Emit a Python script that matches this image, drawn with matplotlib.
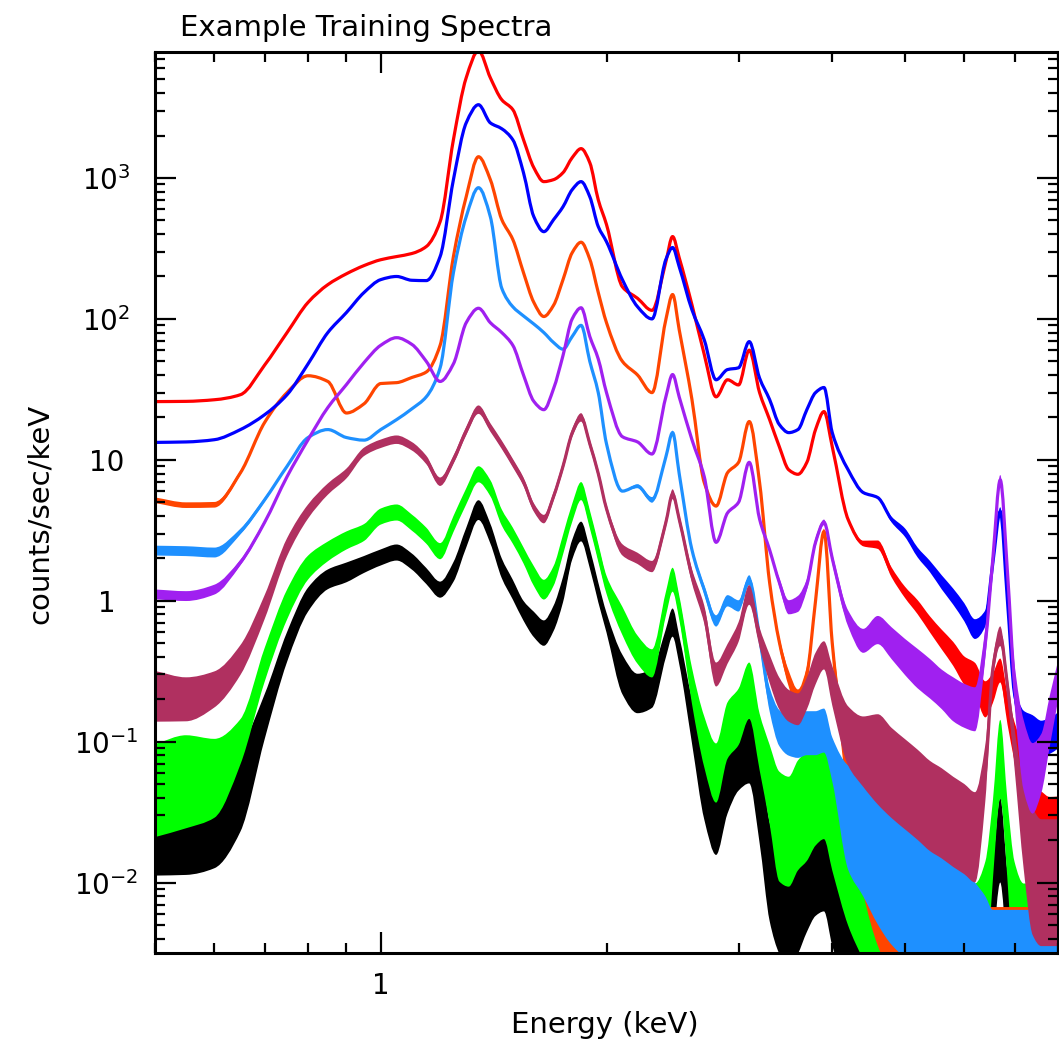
import numpy as np
import matplotlib
matplotlib.use('Agg')
import matplotlib.pyplot as plt
from matplotlib.path import Path
from matplotlib.patches import PathPatch
from matplotlib.ticker import FixedLocator, FixedFormatter, LogLocator, NullFormatter

# channel energies (keV) shared by every spectrum
energy = [0.50, 0.55, 0.60, 0.65, 0.70, 0.75, 0.80, 0.85, 0.90, 0.95,
          1.00, 1.05, 1.10, 1.15, 1.20, 1.25, 1.30, 1.35, 1.40, 1.45,
          1.50, 1.55, 1.60, 1.65, 1.70, 1.75, 1.80, 1.85, 1.90, 1.95,
          2.00, 2.10, 2.20, 2.30, 2.40, 2.45, 2.50, 2.60, 2.70, 2.80,
          2.90, 3.00, 3.10, 3.20, 3.30, 3.40, 3.50, 3.60, 3.70, 3.80,
          3.90, 4.00, 4.20, 4.40, 4.60, 4.80, 5.00, 5.20, 5.40, 5.60,
          5.80, 6.00, 6.20, 6.40, 6.55, 6.70, 6.85, 7.00, 7.20, 7.40,
          7.60, 7.80, 8.00]

# counts/sec/keV for each training spectrum, and the scatter (dex) around it
red = [25.9, 26.0, 26.7, 29.0, 47.0, 80.0, 131, 175, 209, 239,
       263, 277, 291, 326, 490, 1870, 5140, 8000, 5140, 3590,
       3055, 1870, 1183, 942, 973, 1091, 1393, 1615, 1284, 700,
       467, 169, 140, 115, 255, 384, 272, 126, 56, 28,
       37, 34, 60, 30, 19.3, 12.4, 8.5, 7.9, 9.6, 16.4,
       22, 12.4, 3.77, 2.55, 2.5, 1.59, 1.15, 0.9, 0.68, 0.53,
       0.42, 0.32, 0.28, 0.2, 0.24, 0.32, 0.17, 0.10, 0.055, 0.028,
       0.025, 0.025, 0.027]
red_err = [0] * 52 + [0.014, 0.02, 0.03, 0.035, 0.04, 0.05, 0.057, 0.07,
                      0.085, 0.1, 0.113, 0.128, 0.106, 0.085, 0.106, 0.14,
                      0.21, 0.25, 0.25, 0.21, 0.18]

blue = [13.3, 13.4, 13.9, 16.4, 20.9, 29, 48, 80, 111, 154,
        190, 200, 188, 187, 277, 973, 2460, 3310, 2460, 2235,
        1866, 1090, 531, 416, 506, 625, 826, 942, 736, 452,
        353, 190, 122, 100, 264, 321, 235, 116, 71, 37,
        43.7, 45, 69, 38, 26.8, 17.8, 15.6, 16.4, 22.7, 30,
        32.6, 15.6, 8.5, 5.86, 5.4, 3.77, 3.05, 2.2, 1.75, 1.35,
        1.07, 0.83, 0.63, 0.75, 1.86, 4.3, 1.0, 0.22, 0.13, 0.115,
        0.105, 0.11, 0.12]
blue_err = [0] * 55 + [0.02, 0.03, 0.035, 0.04, 0.05, 0.057, 0.064, 0.07,
                       0.057, 0.03, 0.03, 0.04, 0.07, 0.106, 0.128, 0.128,
                       0.128, 0.128]

orange = [5.17, 4.77, 4.8, 8.1, 18.4, 30, 39.5, 36, 21.5, 25,
          34.8, 35.3, 38.4, 42, 65, 277, 736, 1415, 973, 507,
          366, 213, 131, 104, 125, 190, 295, 350, 265, 154,
          94, 50, 40, 30, 99, 149, 84, 26.8, 6.9, 4.7,
          8.1, 9.6, 18.7, 6.9, 1.35, 0.51, 0.28, 0.2, 0.3, 1.0,
          3.1, 0.5, 0.057, 0.016, 0.008, 0.005, 0.004, 0.0035, 0.003, 0.003,
          0.003, 0.003, 0.003, 0.003, 0.003, 0.003, 0.003, 0.003, 0.003, 0.003,
          0.003, 0.003, 0.003]
orange_err = ([0.02, 0.02, 0.02, 0.014] + [0] * 40 +
              [0.02, 0.035, 0.057, 0.07, 0.057, 0.035, 0.02, 0.057, 0.18, 0.28] +
              [0.35] * 19)

dodger = [2.27, 2.25, 2.2, 3.1, 5.2, 9.0, 14.4, 16.4, 14.4, 13.8,
          16.4, 19.3, 23, 28, 45, 213, 531, 853, 531, 165,
          122, 105, 92, 80, 68, 61, 75, 90, 50, 30,
          13, 6, 6.5, 5.2, 10.5, 15.6, 8, 2.3, 1.2, 0.72,
          1.0, 0.92, 1.4, 0.55, 0.2, 0.125, 0.11, 0.11, 0.115, 0.115,
          0.12, 0.075, 0.029, 0.022, 0.016, 0.012, 0.0095, 0.0085, 0.0075, 0.0068,
          0.006, 0.005, 0.004, 0.0035, 0.003, 0.003, 0.003, 0.003, 0.003, 0.003,
          0.003, 0.003, 0.003]
dodger_err = ([0.035, 0.035, 0.035, 0.02, 0.014] + [0] * 27 +
              [0.014, 0.02, 0.014, 0.014, 0.014, 0.02, 0.03, 0.04, 0.04, 0.04,
               0.035, 0.05, 0.085, 0.128, 0.14, 0.156, 0.156, 0.156, 0.156, 0.156,
               0.37, 0.44, 0.5, 0.52, 0.5, 0.47, 0.43, 0.4, 0.4, 0.4,
               0.4, 0.36] + [0.33] * 9)

purple = [1.11, 1.08, 1.2, 1.87, 3.6, 7.6, 13.9, 23.5, 34.2, 49,
          65, 73.6, 66, 50, 36, 48, 94, 119, 94, 80,
          65, 40, 26, 22.7, 32, 55, 100, 120, 75, 52,
          30, 14.6, 13.4, 11, 28, 40.3, 28, 13.9, 7.6, 2.6,
          4.2, 5.0, 9.6, 3.8, 2.3, 1.35, 0.9, 0.95, 1.3, 2.6,
          3.6, 2.0, 0.75, 0.52, 0.62, 0.5, 0.4, 0.33, 0.28, 0.235,
          0.2, 0.18, 0.17, 0.5, 2.0, 7.2, 1.6, 0.26, 0.08, 0.055,
          0.07, 0.14, 0.27]
purple_err = ([0.035, 0.035, 0.035, 0.02, 0.014] + [0] * 40 +
              [0.03, 0.05, 0.057, 0.04, 0.03, 0.02, 0.035, 0.057, 0.085, 0.1,
               0.113, 0.128, 0.14, 0.14, 0.14, 0.156, 0.156, 0.156, 0.106, 0.035,
               0.035, 0.035, 0.14, 0.25, 0.25, 0.21, 0.18, 0.14])

maroon = [0.21, 0.2, 0.235, 0.38, 0.9, 2.4, 4.3, 6.2, 8, 11.4,
          13, 13.9, 12.5, 10, 7, 10, 16, 22.7, 17, 12.8,
          9.5, 7, 4.6, 3.8, 5.5, 9, 15.5, 20, 13, 8,
          4.5, 2.3, 2.0, 1.75, 3.6, 5.7, 3.8, 1.5, 0.8, 0.3,
          0.42, 0.6, 1.1, 0.55, 0.33, 0.22, 0.18, 0.17, 0.22, 0.33,
          0.41, 0.25, 0.11, 0.085, 0.075, 0.06, 0.05, 0.042, 0.035, 0.031,
          0.027, 0.024, 0.021, 0.06, 0.33, 0.56, 0.25, 0.09, 0.025, 0.012,
          0.01, 0.01, 0.01]
maroon_err = ([0.18, 0.156, 0.128, 0.106, 0.085, 0.064, 0.05, 0.04, 0.035, 0.03] +
              [0.03] * 21 + [0.04, 0.04, 0.04, 0.035, 0.035, 0.035, 0.05, 0.064, 0.085,
                             0.07, 0.07, 0.07, 0.07, 0.1, 0.113, 0.113, 0.113, 0.113, 0.113,
                             0.1, 0.14, 0.21, 0.25] +
              [0.32] * 9 + [0.2, 0.07, 0.07, 0.07, 0.14] + [0.3, 0.45, 0.45, 0.45, 0.45])

green = [0.045, 0.052, 0.055, 0.1, 0.35, 0.94, 1.72, 2.24, 2.68, 3.05,
         3.96, 4.23, 3.59, 2.9, 2.25, 3.5, 5.5, 7.9, 6.3, 3.9,
         2.9, 2.1, 1.5, 1.2, 1.5, 2.5, 4.2, 6.0, 3.8, 2.2,
         1.3, 0.72, 0.45, 0.36, 0.95, 1.41, 0.9, 0.25, 0.1, 0.06,
         0.12, 0.15, 0.23, 0.1, 0.05, 0.025, 0.023, 0.03, 0.035, 0.045,
         0.05, 0.03, 0.014, 0.008, 0.005, 0.004, 0.0035, 0.0035, 0.0035, 0.0035,
         0.0035, 0.0035, 0.0035, 0.005, 0.02, 0.075, 0.02, 0.005, 0.0035, 0.0035,
         0.0035, 0.0035, 0.0035]
green_err = ([0.33, 0.33, 0.28, 0.16, 0.12, 0.106, 0.085, 0.07, 0.064, 0.06] +
             [0.057] * 12 + [0.07] * 4 + [0.064] * 5 + [0.1] * 3 + [0.085] * 3 +
             [0.128, 0.18, 0.21, 0.2, 0.2, 0.2, 0.2, 0.28] + [0.39] * 7 +
             [0.45] * 12 + [0.28] * 3 + [0.45] * 6)

black = [0.024, 0.026, 0.029, 0.046, 0.15, 0.47, 1.02, 1.42, 1.59, 1.81,
         2.03, 2.2, 1.9, 1.5, 1.2, 1.6, 2.8, 4.4, 3.0, 1.7,
         1.2, 0.85, 0.68, 0.59, 0.75, 1.2, 2.3, 3.1, 2.0, 1.15,
         0.7, 0.3, 0.22, 0.24, 0.5, 0.7, 0.45, 0.14, 0.05, 0.03,
         0.055, 0.08, 0.09, 0.04, 0.012, 0.007, 0.0055, 0.007, 0.01, 0.013,
         0.014, 0.008, 0.004, 0.003, 0.0028, 0.0028, 0.0028, 0.0028, 0.0028, 0.0028,
         0.0028, 0.0028, 0.0028, 0.003, 0.007, 0.02, 0.006, 0.003, 0.0028, 0.0028,
         0.0028, 0.0028, 0.0028]
black_err = ([0.33, 0.36, 0.36, 0.3, 0.16, 0.106, 0.085, 0.07, 0.07, 0.06] +
             [0.057] * 5 + [0.07] * 7 + [0.09] * 4 + [0.07] * 5 + [0.14] * 3 +
             [0.1] * 3 + [0.156, 0.25, 0.28, 0.25, 0.25, 0.25, 0.32] +
             [0.35] * 20 + [0.3] * 3 + [0.35] * 6)

# (values, scatter, colour) in drawing order
spectra = [
    (black, black_err, 'black'),
    (green, green_err, '#00ff00'),
    (orange, orange_err, '#ff4500'),
    (dodger, dodger_err, '#1e90ff'),
    (red, red_err, '#ff0000'),
    (blue, blue_err, '#0000ff'),
    (maroon, maroon_err, '#b03060'),
    (purple, purple_err, '#a020f0'),
]

ytick_vals = [1e-2, 1e-1, 1, 10, 100, 1000]
ytick_text = ['$10^{-2}$', '$10^{-1}$', '1', '10', '$10^{2}$', '$10^{3}$']


def pchip_slopes(x, y):
    h = np.diff(x)
    d = np.diff(y) / h
    m = np.zeros_like(y)
    m[0], m[-1] = d[0], d[-1]
    for k in range(1, len(x) - 1):
        if d[k - 1] * d[k] <= 0:
            m[k] = 0.0
        else:
            w1 = 2 * h[k] + h[k - 1]
            w2 = h[k] + 2 * h[k - 1]
            m[k] = (w1 + w2) / (w1 / d[k - 1] + w2 / d[k])
    return m


def bezier_verts(lx, ly):
    """Cubic Bezier control points through (lx, ly), given in log10 space."""
    m = pchip_slopes(lx, ly)
    verts = []
    for k in range(len(lx) - 1):
        h = lx[k + 1] - lx[k]
        verts += [(lx[k] + h / 3, ly[k] + m[k] * h / 3),
                  (lx[k + 1] - h / 3, ly[k + 1] - m[k + 1] * h / 3),
                  (lx[k + 1], ly[k + 1])]
    return verts


def to_data(verts):
    return [(10 ** a, 10 ** b) for a, b in verts]


W, H = 1059, 1041
fig = plt.figure(figsize=(W / 100, H / 100), dpi=100)
ax = fig.add_axes([155 / W, 1 - 953 / H, 903 / W, 901 / H])

lx = np.log10(np.array(energy))
for vals, err, col in spectra:
    ly = np.log10(np.array(vals, dtype=float))
    s = np.array(err, dtype=float)

    # scatter band around the spectrum
    up = [(lx[0], ly[0] + s[0])] + bezier_verts(lx, ly + s)
    lo_rev = bezier_verts(lx[::-1], (ly - s)[::-1])
    verts = up + [(lx[-1], ly[-1] - s[-1])] + lo_rev + [(lx[0], ly[0] + s[0])]
    codes = ([Path.MOVETO] + [Path.CURVE4] * (len(up) - 1) + [Path.LINETO] +
             [Path.CURVE4] * len(lo_rev) + [Path.CLOSEPOLY])
    ax.add_patch(PathPatch(Path(to_data(verts), codes), facecolor=col,
                           edgecolor='none', lw=0))

    # the spectrum itself
    line = [(lx[0], ly[0])] + bezier_verts(lx, ly)
    codes = [Path.MOVETO] + [Path.CURVE4] * (len(line) - 1)
    ax.add_patch(PathPatch(Path(to_data(line), codes), facecolor='none',
                           edgecolor=col, lw=2.3, capstyle='round',
                           joinstyle='round'))

ax.set_xscale('log')
ax.set_yscale('log')
ax.set_xlim(0.5, 8.0)
ax.set_ylim(0.00317, 7830)

ax.xaxis.set_major_locator(FixedLocator([1.0]))
ax.xaxis.set_major_formatter(FixedFormatter(['1']))
ax.xaxis.set_minor_locator(LogLocator(base=10, subs=np.arange(2, 10)))
ax.xaxis.set_minor_formatter(NullFormatter())
ax.yaxis.set_major_locator(FixedLocator(ytick_vals))
ax.yaxis.set_major_formatter(FixedFormatter(ytick_text))
ax.yaxis.set_minor_locator(LogLocator(base=10, subs=np.arange(2, 10)))
ax.yaxis.set_minor_formatter(NullFormatter())

for sp in ax.spines.values():
    sp.set_linewidth(2.2)
    sp.set_zorder(5)
ax.tick_params(which='both', direction='in', top=True, right=True, width=1.6)
ax.tick_params(which='major', length=15)
ax.tick_params(which='minor', length=7.5)
ax.tick_params(axis='y', labelsize=20, pad=35)
ax.tick_params(axis='x', labelsize=20, pad=14)
for lab in ax.get_yticklabels():
    lab.set_horizontalalignment('center')

fig.text(180 / W, 1 - 28 / H, 'Example Training Spectra', fontsize=21,
         ha='left', va='center')
fig.text(605 / W, 1 - 1025 / H, 'Energy (keV)', fontsize=21,
         ha='center', va='center')
fig.text(40 / W, 1 - 514 / H, 'counts/sec/keV', fontsize=21, rotation=90,
         ha='center', va='center')

fig.savefig('out.png', dpi=100)
